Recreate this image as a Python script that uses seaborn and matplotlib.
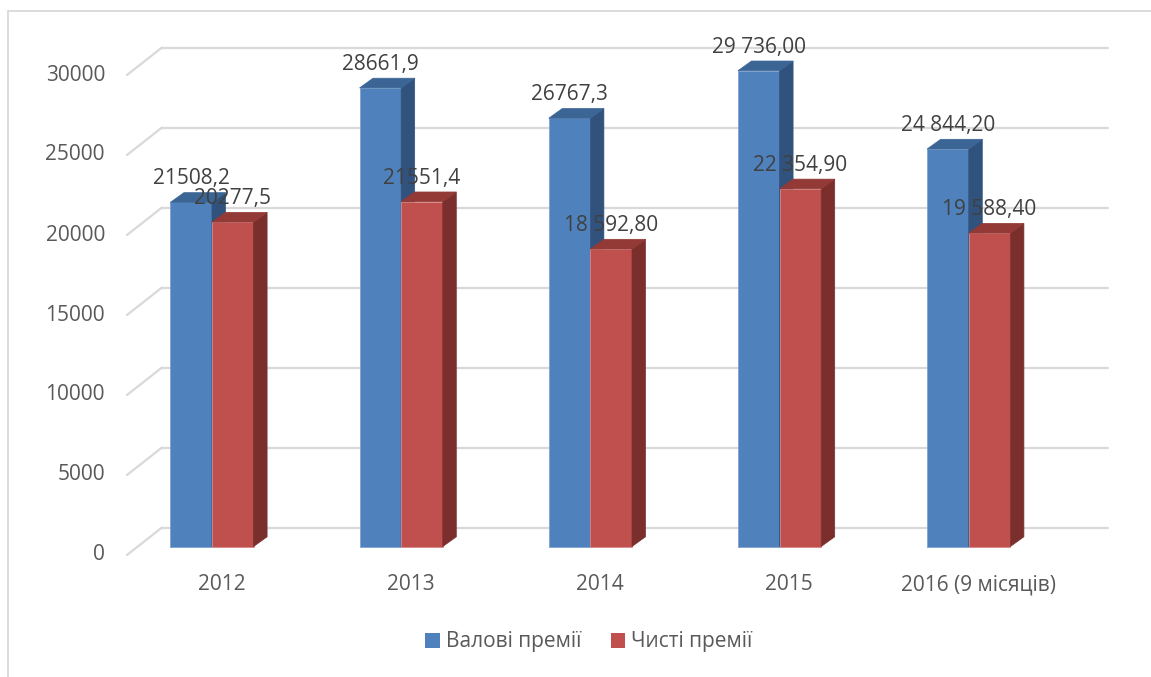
import matplotlib
matplotlib.use("Agg")
import matplotlib.pyplot as plt
import pandas as pd
import seaborn as sns
from matplotlib.transforms import ScaledTranslation
from matplotlib.patches import Polygon, Patch
from matplotlib.lines import Line2D

# ---- data -------------------------------------------------------------
years = ["2012", "2013", "2014", "2015", "2016 (9 місяців)"]
series_names = ["Валові премії", "Чисті премії"]
gross = [21508.2, 28661.9, 26767.3, 29736.00, 24844.20]
net = [20277.5, 21551.4, 18592.80, 22354.90, 19588.40]
gross_labels = ["21508,2", "28661,9", "26767,3", "29 736,00", "24 844,20"]
net_labels = ["20277,5", "21551,4", "18 592,80", "22 354,90", "19 588,40"]
y_ticks = [0, 5000, 10000, 15000, 20000, 25000, 30000]

# ---- style ------------------------------------------------------------
sns.set_theme(style="white")
plt.rcParams["font.family"] = ["Open Sans", "DejaVu Sans"]

front_col = {series_names[0]: "#4F81BD", series_names[1]: "#C0504D"}
top_col = {series_names[0]: "#3B6595", series_names[1]: "#933936"}
side_col = {series_names[0]: "#30527D", series_names[1]: "#7A2F2D"}
edge_col = {series_names[0]: "#7FA3D0", series_names[1]: "#D98A87"}
grid_col = "#D9D9D9"
tick_col = "#595959"
label_col = "#404040"
FS = 15

DPI = 100
W, H = 1151, 677
fig = plt.figure(figsize=(W / DPI, H / DPI), dpi=DPI)

# axes = front plane of the bars (pixel box, measured from top-left)
left_px, right_px = 138, 1084
base_px, top_px = 546.5, 66.5
ax = fig.add_axes([left_px / W, (H - base_px) / H,
                   (right_px - left_px) / W, (base_px - top_px) / H])

df = pd.DataFrame({
    "year": years * 2,
    "value": gross + net,
    "series": [series_names[0]] * len(years) + [series_names[1]] * len(years),
})
sns.barplot(data=df, x="year", y="value", hue="series", hue_order=series_names,
            palette=front_col, width=0.44, gap=0, dodge=True, errorbar=None,
            saturation=1, legend=False, ax=ax)

ax.set_xlim(-0.391, 4.609)
ax.set_ylim(0, 30000)
ax.axis("off")
xmin, xmax = ax.get_xlim()


def off(dx, dy):
    """Pixel offset (dy positive = up) as a transform."""
    return ScaledTranslation(dx / DPI, dy / DPI, fig.dpi_scale_trans)


def px_to_data(dx, dy):
    p = ax.transData.transform((0, 0))
    return ax.transData.inverted().transform((p[0] + dx, p[1] + dy))


# depth of the floor: front edge and back wall relative to the bar plane
fx, fy = px_to_data(-11, -8.5)
bx, by = px_to_data(24, 19)

for k in y_ticks:
    # back wall gridline
    ax.add_line(Line2D([xmin + bx, xmax + bx], [k + by, k + by], color=grid_col,
                       lw=1.6, zorder=0, clip_on=False))
    # side wall diagonal
    ax.add_line(Line2D([xmin + fx, xmin + bx], [k + fy, k + by], color=grid_col,
                       lw=1.6, zorder=0, clip_on=False))
    ax.text(xmin, k, f"{k}", transform=ax.transData + off(-33, -8.5),
            ha="right", va="center", fontsize=FS, color=tick_col)

# 3-D faces of the bars
ddx, ddy = px_to_data(13.5, 9.7)
all_labels = [gross_labels, net_labels]
for si, (name, cont) in enumerate(zip(series_names, ax.containers)):
    for j, rect in enumerate(cont.patches):
        x0, w, h = rect.get_x(), rect.get_width(), rect.get_height()
        rect.set_zorder(2 + si)
        rect.set_edgecolor(edge_col[name])
        rect.set_linewidth(0.6)
        side = [(x0 + w, 0), (x0 + w, h), (x0 + w + ddx, h + ddy), (x0 + w + ddx, ddy)]
        top = [(x0, h), (x0 + w, h), (x0 + w + ddx, h + ddy), (x0 + ddx, h + ddy)]
        ax.add_patch(Polygon(side, closed=True, facecolor=side_col[name],
                             edgecolor=side_col[name], lw=0.5,
                             zorder=2 + si + 0.1, clip_on=False))
        ax.add_patch(Polygon(top, closed=True, facecolor=top_col[name],
                             edgecolor=top_col[name], lw=0.5,
                             zorder=2 + si + 0.2, clip_on=False))
        rect.set_clip_on(False)
        ax.text(x0 + w / 2, h, all_labels[si][j],
                transform=ax.transData + off(0, 18),
                ha="center", va="baseline", fontsize=FS, color=label_col,
                zorder=10, clip_on=False)

# category labels under the front edge of the floor
for i, yr in enumerate(years):
    ax.text(xmin + i + 0.5, 0, yr, transform=ax.transData + off(-11, -38.5),
            ha="center", va="center", fontsize=FS, color=tick_col)

# legend
handles = [Patch(facecolor=front_col[n], edgecolor="none") for n in series_names]
fig.legend(handles, series_names, loc="center", bbox_to_anchor=(589 / W, 1 - 642 / H),
           ncol=2, frameon=False, fontsize=FS, labelcolor=tick_col,
           handlelength=0.7, handleheight=0.7, handletextpad=0.3,
           columnspacing=1.4)

# chart area border (top and left edges)
fig.add_artist(Line2D([8 / W, 8 / W], [0, 1 - 10.5 / H], transform=fig.transFigure,
                      color=grid_col, lw=1.3))
fig.add_artist(Line2D([8 / W, 1], [1 - 10.5 / H, 1 - 10.5 / H], transform=fig.transFigure,
                      color=grid_col, lw=1.3))

fig.savefig("out.png", dpi=DPI, facecolor="white")
